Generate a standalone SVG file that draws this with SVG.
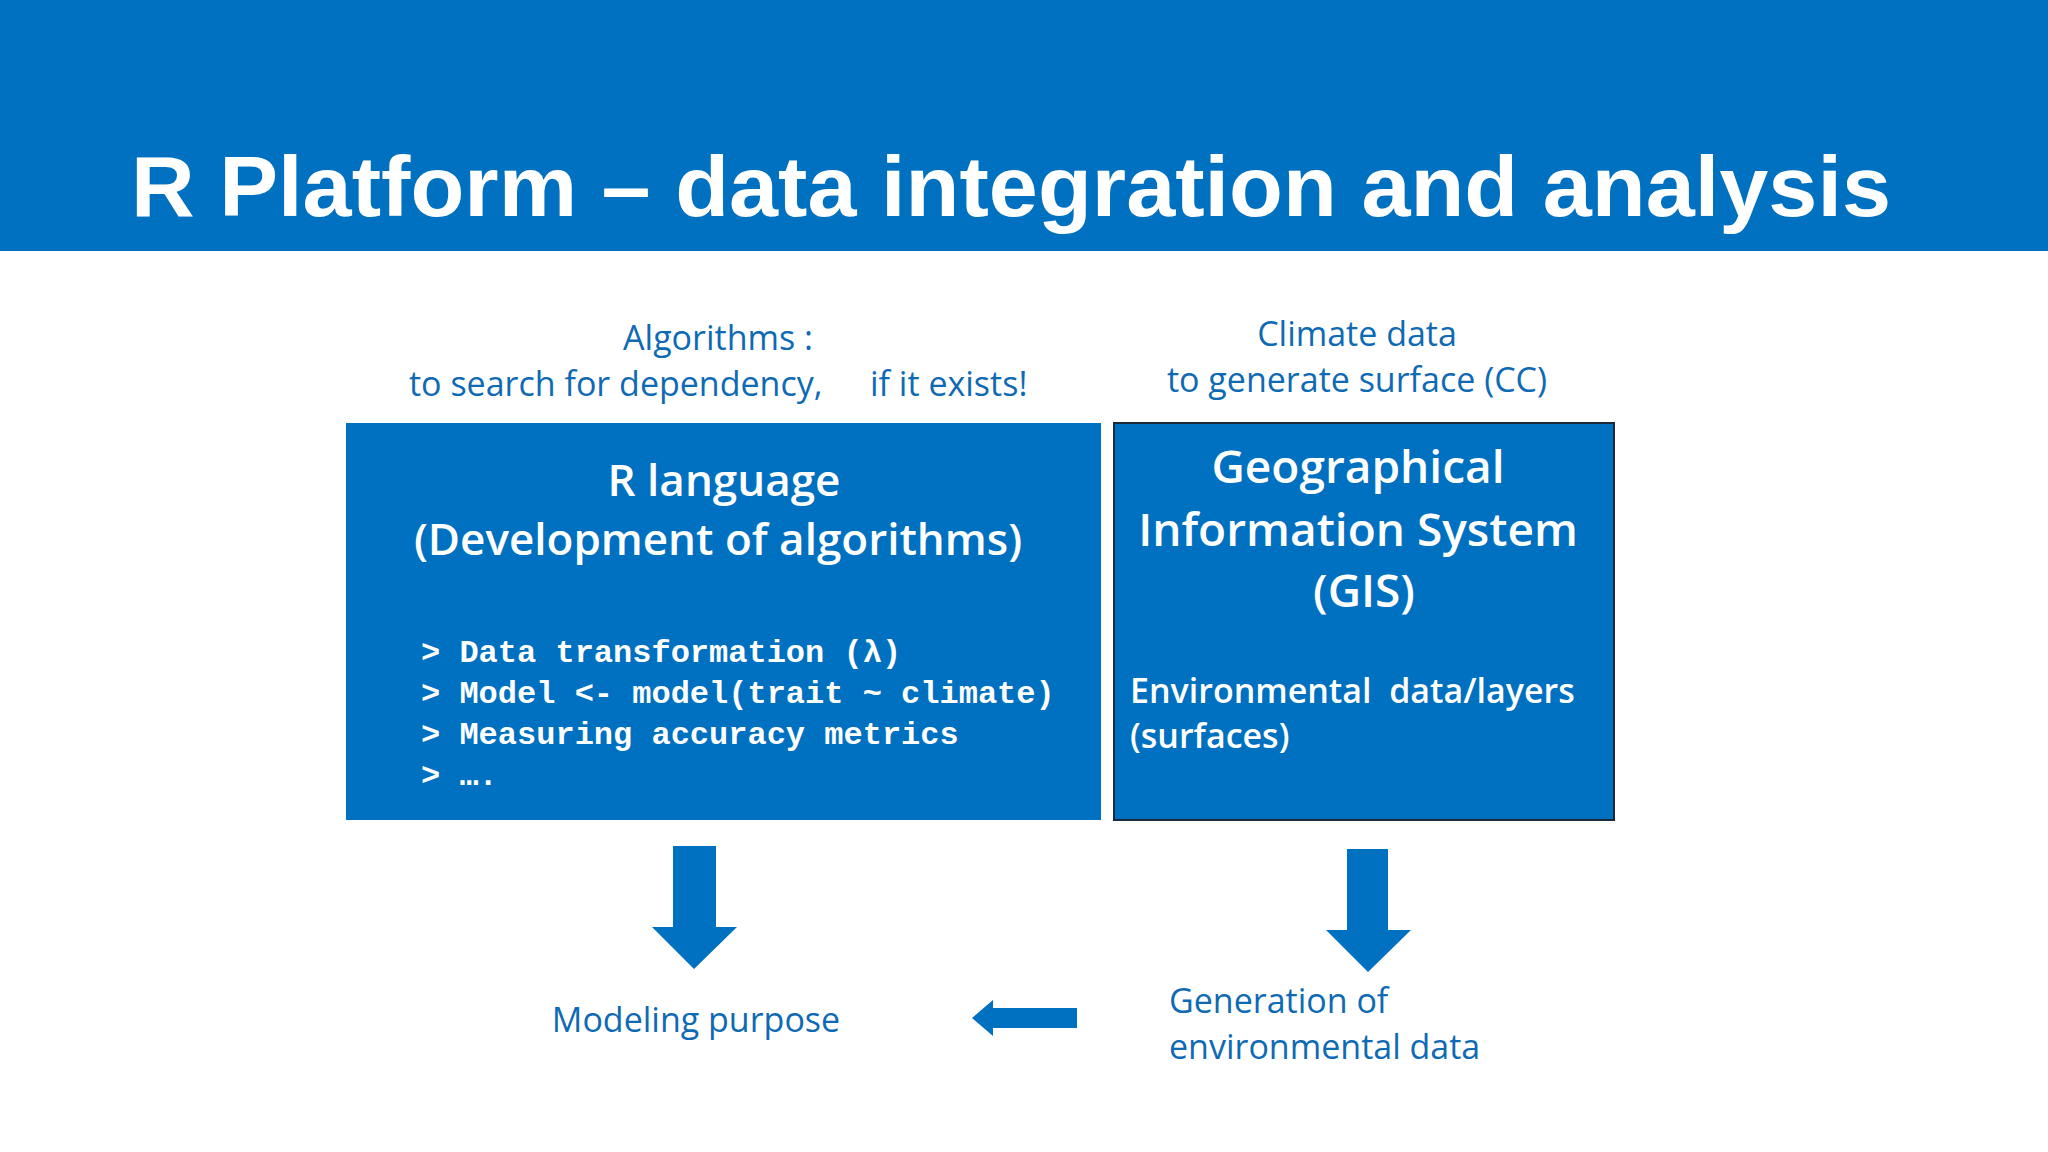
<svg xmlns="http://www.w3.org/2000/svg" width="2048" height="1152" viewBox="0 0 2048 1152">
<style>
.lbl{font-family:"Open Sans","Liberation Sans",sans-serif;font-size:34px;fill:#0F6AB4}
.wt{font-family:"Open Sans","Liberation Sans",sans-serif;font-weight:600;fill:#fff}
.code{font-family:"Liberation Mono",monospace;font-weight:bold;font-size:32px;fill:#fff}
.arr{fill:#0070C0}
</style>
<rect x="0" y="0" width="2048" height="1152" fill="#fff"/>
<rect x="0" y="0" width="2048" height="251" fill="#0070C0"/>
<text x="131" y="216" font-family="Liberation Sans,Arial,sans-serif" font-weight="bold" font-size="86" fill="#fff" textLength="1760" lengthAdjust="spacingAndGlyphs">R Platform – data integration and analysis</text>
<g id="labels">
<text class="lbl" x="718" y="350" text-anchor="middle">Algorithms :</text>
<text class="lbl" x="409" y="396">to search for dependency,</text>
<text class="lbl" x="870" y="396">if it exists!</text>
<text class="lbl" x="1357" y="346" text-anchor="middle">Climate data</text>
<text class="lbl" x="1357" y="392" text-anchor="middle">to generate surface (CC)</text>
</g>
<g id="rlang">
<rect x="346" y="423" width="755" height="397" fill="#0070C0"/>
<text class="wt" x="724" y="496" font-size="44" text-anchor="middle">R language</text>
<text class="wt" x="718" y="555" font-size="44" text-anchor="middle">(Development of algorithms)</text>
<text class="code" x="421" y="662" xml:space="preserve">&gt; Data transformation (λ)</text>
<text class="code" x="421" y="703" xml:space="preserve">&gt; Model &lt;- model(trait ~ climate)</text>
<text class="code" x="421" y="744" xml:space="preserve">&gt; Measuring accuracy metrics</text>
<text class="code" x="421" y="785" xml:space="preserve">&gt; ….</text>
</g>
<g id="gis">
<rect x="1114" y="423" width="500" height="397" fill="#0070C0" stroke="#1a2a3a" stroke-width="2"/>
<text class="wt" x="1358" y="483" font-size="46" text-anchor="middle">Geographical</text>
<text class="wt" x="1358" y="546" font-size="46" text-anchor="middle">Information System</text>
<text class="wt" x="1364" y="607" font-size="46" text-anchor="middle">(GIS)</text>
<text class="wt" x="1130" y="703" font-size="34" xml:space="preserve">Environmental  data/layers</text>
<text class="wt" x="1130" y="748" font-size="34">(surfaces)</text>
</g>
<g id="bottom">
<text class="lbl" x="696" y="1032" text-anchor="middle">Modeling purpose</text>
<text class="lbl" x="1169" y="1013">Generation of</text>
<text class="lbl" x="1169" y="1059">environmental data</text>
</g>
<g id="connectors">
<polygon class="arr" points="673,846 716,846 716,927 737,927 694,969 652,927 673,927"/>
<polygon class="arr" points="1347,849 1388,849 1388,930 1411,930 1368,972 1326,930 1347,930"/>
<polygon class="arr" points="1077,1008 1077,1028 993,1028 993,1036 972,1018 993,1000 993,1008"/>
</g>
</svg>
